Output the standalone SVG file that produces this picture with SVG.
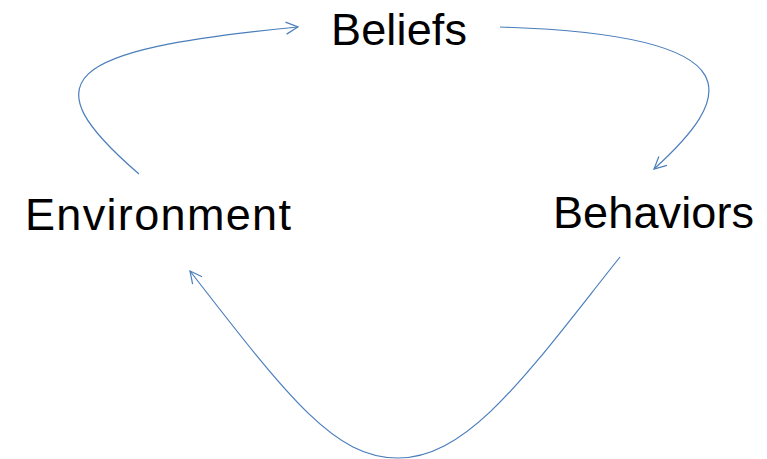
<svg xmlns="http://www.w3.org/2000/svg" width="767" height="459" viewBox="0 0 767 459">
  <style>
    .lbl { font-family: "Liberation Sans", Arial, sans-serif; font-size: 45px; fill: #000; }
    .edge { fill: none; stroke: #4a7ebb; stroke-width: 1.2; marker-end: url(#open); }
  </style>
  <defs>
    <marker id="open" viewBox="0 0 14 14" refX="13" refY="7" markerWidth="14" markerHeight="14" markerUnits="userSpaceOnUse" orient="auto">
      <path d="M1,1 L13,7 L1,13" fill="none" stroke="#4a7ebb" stroke-width="1.2"/>
    </marker>
  </defs>
  <rect width="767" height="459" fill="#fff"/>
  <g id="connectors">
    <path class="edge" d="M139,174 C 30,80 60,50 298,27"/>
    <path class="edge" d="M500,27 C 765,35 730,100 654,169"/>
    <path class="edge" d="M620,257 C 530,370 470,458 398,458 C 335,458 290,400 190,271"/>
  </g>
  <g id="beliefs"><text class="lbl" x="331" y="45" textLength="136">Beliefs</text></g>
  <g id="environment"><text class="lbl" x="25" y="230" textLength="266">Environment</text></g>
  <g id="behaviors"><text class="lbl" x="553" y="228" textLength="201">Behaviors</text></g>
</svg>
